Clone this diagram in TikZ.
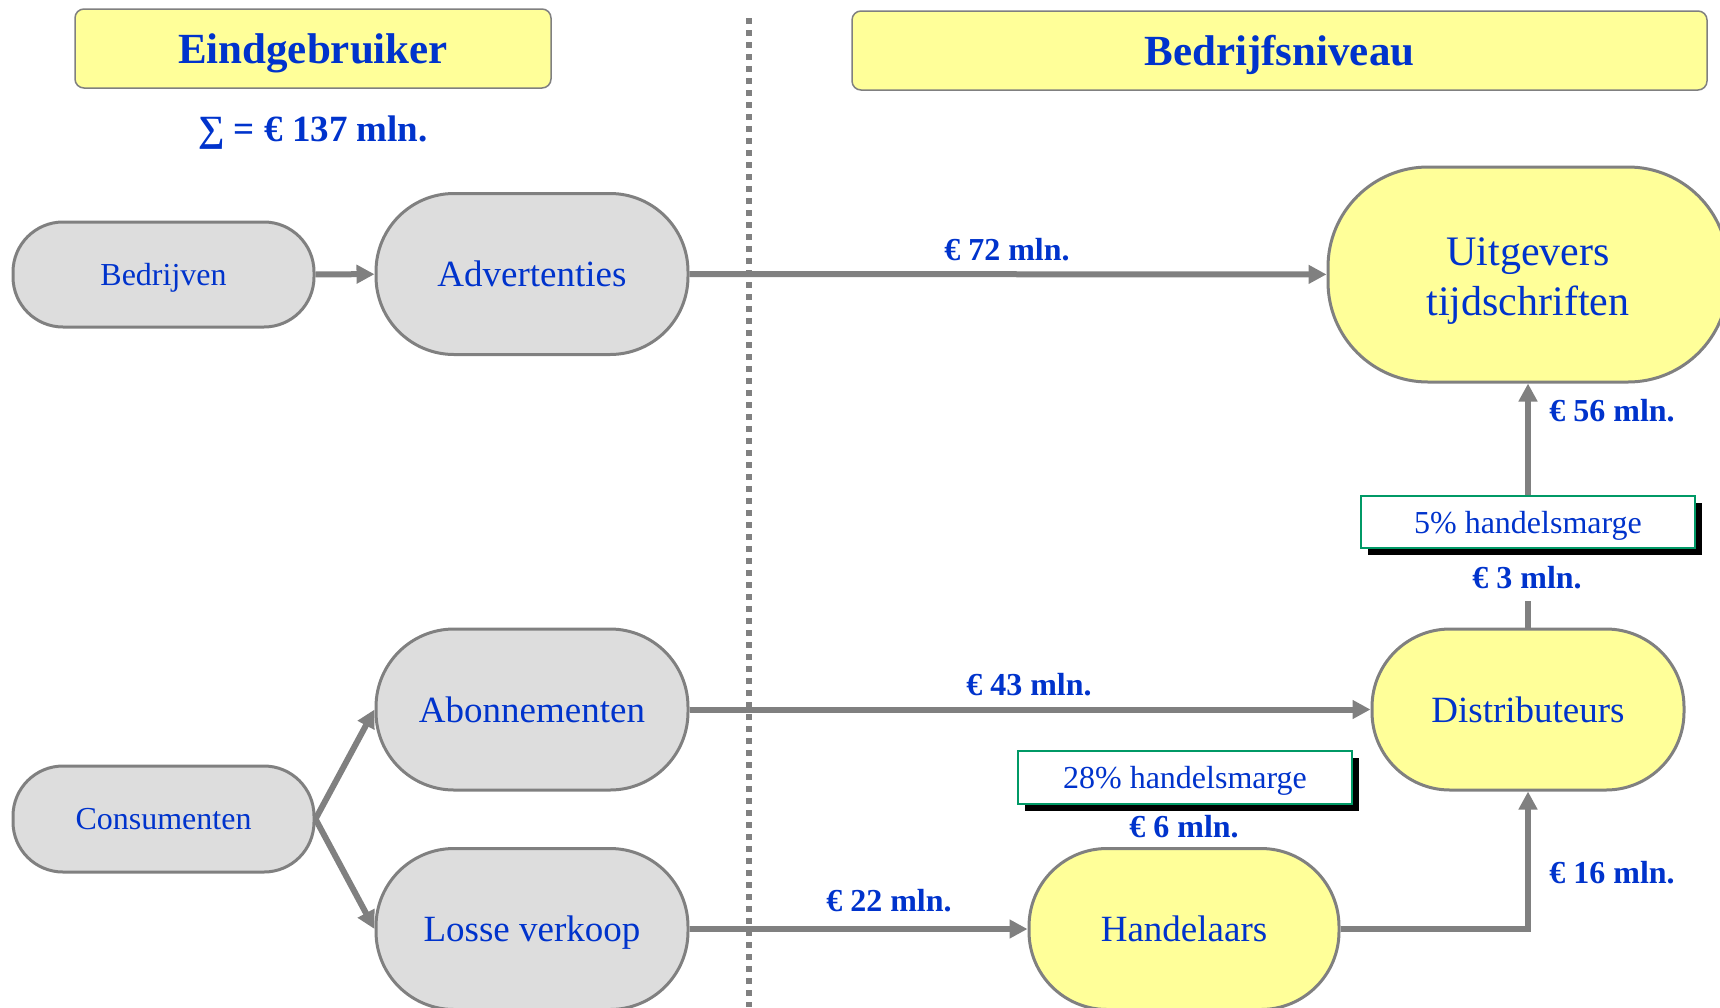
\documentclass[tikz,border=0pt]{standalone}
\usepackage{fontspec}
\setmainfont{Liberation Serif}
\usetikzlibrary{arrows.meta,shadows}
\definecolor{txtblue}{RGB}{0,51,204}
\definecolor{lgray}{RGB}{221,221,221}
\definecolor{lyellow}{RGB}{255,255,153}
\definecolor{edgegray}{RGB}{128,128,128}
\definecolor{mgreen}{RGB}{0,153,102}
\begin{document}
\begin{tikzpicture}[x=1pt,y=-1pt,
  every node/.style={text=txtblue, inner sep=0pt},
  hdr/.style={draw=edgegray, line width=1.5pt, fill=lyellow, rounded corners=9pt,
    minimum width=#1, minimum height=79pt, text depth=0pt, font=\fontsize{43}{47}\selectfont\bfseries},
  graynode/.style={draw=edgegray, line width=3pt, fill=lgray},
  yelnode/.style={draw=edgegray, line width=3pt, fill=lyellow},
  bignode/.style={minimum width=312pt, minimum height=161pt, rounded corners=78pt,
    text depth=0pt, font=\fontsize{37}{42}\selectfont},
  smallnode/.style={minimum width=301pt, minimum height=105pt, rounded corners=50pt,
    text depth=0pt, font=\fontsize{32}{36}\selectfont},
  money/.style={font=\fontsize{32}{36}\selectfont\bfseries},
  margin/.style={draw=mgreen, line width=2pt, fill=white, minimum width=334pt,
    minimum height=52pt, text depth=0pt, font=\fontsize{32}{36}\selectfont,
    drop shadow={shadow xshift=7pt, shadow yshift=-7pt, fill=black, opacity=1}},
  flow/.style={draw=edgegray, line width=6pt, -{Triangle[length=18pt,width=18pt]}},
  plain/.style={draw=edgegray, line width=6pt}
]
\useasboundingbox (0,0) rectangle (1720,1007);

% divider
\coordinate (dtop) at (749,18);
\coordinate (dbot) at (749,1007);
\draw[edgegray, line width=6pt, dash pattern=on 6pt off 6pt] (dtop) -- (dbot);

% headers
\node[hdr=476pt] (hL) at (313,48.5) {Eindgebruiker};
\node[hdr=855pt] (hR) at (1279.5,50.5) {Bedrijfsniveau};
\node[font=\fontsize{37}{42}\selectfont\bfseries] (sum) at (313,133) {∑ = € 137 mln.};

% nodes
\node[graynode, smallnode] (bedr) at (163.5,274.5) {Bedrijven};
\node[graynode, bignode] (adv) at (532,274) {Advertenties};
\node[yelnode, minimum width=400pt, minimum height=215pt, rounded corners=100pt] (uitg) at (1528,274.5) {};
\node[align=center, font=\fontsize{42}{50}\selectfont] (uitgtxt) at (1528,281) {Uitgevers\\tijdschriften};
\node[graynode, bignode] (abon) at (532,709.5) {Abonnementen};
\node[yelnode, bignode] (dist) at (1528,709.5) {Distributeurs};
\node[graynode, smallnode, minimum height=106pt] (cons) at (163.5,819) {Consumenten};
\node[graynode, bignode] (losse) at (532,929) {Losse verkoop};
\node[yelnode, bignode, minimum width=310pt] (hand) at (1184,929) {Handelaars};

\node[margin] (m5) at (1528,522) {5\% handelsmarge};
\node[margin, minimum height=53pt] (m28) at (1185,777.5) {28\% handelsmarge};

% connectors
\draw[flow] (bedr) -- (adv);
\draw[flow] (adv) -- (uitg);
\draw[flow] (m5) -- (uitg);
\coordinate (dtopend) at (1528,601);
\draw[plain] (dist.north) -- (dtopend);
\draw[flow] (abon) -- (dist);
\draw[flow] (cons.east) -- (abon.west);
\draw[flow] (cons.east) -- (losse.west);
\draw[flow] (losse) -- (hand);
\draw[flow] (hand.east) -| (dist.south);

% labels
\node[money] (l72) at (1007,250) {€ 72 mln.};
\node[money] (l56) at (1612,411) {€ 56 mln.};
\node[money] (l3) at (1527,578) {€ 3 mln.};
\node[money] (l43) at (1029,685) {€ 43 mln.};
\node[money] (l22) at (889,901) {€ 22 mln.};
\node[money] (l6) at (1184,827) {€ 6 mln.};
\node[money] (l16) at (1612,873) {€ 16 mln.};
\end{tikzpicture}
\end{document}
